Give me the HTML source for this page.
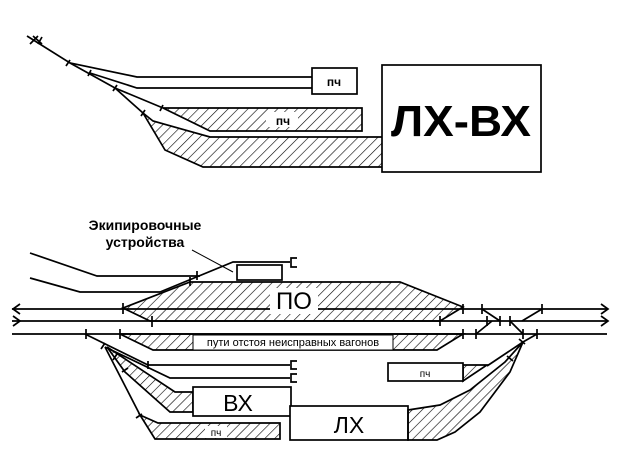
<!DOCTYPE html>
<html><head><meta charset="utf-8"><style>
html,body{margin:0;padding:0;background:#fff;}
svg{display:block}
text{font-family:"Liberation Sans",sans-serif;fill:#000}
</style></head><body>
<svg width="624" height="468" viewBox="0 0 624 468" xmlns="http://www.w3.org/2000/svg">
<defs>
<pattern id="h" patternUnits="userSpaceOnUse" width="7" height="7" patternTransform="rotate(45)">
<line x1="0" y1="0" x2="0" y2="7" stroke="#000" stroke-width="1.2"/>
</pattern>
</defs>
<g stroke="#000" stroke-width="1.7" fill="none">
<!-- TOP -->
<polygon points="163,108 362,108 362,131 210,131" fill="url(#h)"/>
<polygon points="143,113 153,121 210,137 384,137 384,167 203,167 165,150" fill="url(#h)"/>
<polyline points="27,36 70,63 137,77 312,77"/>
<polyline points="90,73 137,88 312,88"/>
<polyline points="70,63 115,88 163,108"/>
<polyline points="115,88 143,113"/>
<path d="M30,44 l8,-8 M38,44 l4,-7 M33,36 l9,8"/>
<path d="M66,66 l4,-6 M88,76 l3,-6 M113,91 l4,-6 M141,116 l4,-6 M160,111 l3,-6"/>
<rect x="312" y="68" width="45" height="26" fill="#fff"/>
<rect x="382" y="65" width="159" height="107" fill="#fff"/>
</g>
<rect x="266" y="112" width="32" height="15" fill="#fff"/>
<text x="334" y="86" font-size="12" font-weight="bold" text-anchor="middle">пч</text>
<text x="283" y="125" font-size="12" font-weight="bold" text-anchor="middle">пч</text>
<text x="461" y="136" font-size="44" font-weight="bold" text-anchor="middle" textLength="140" lengthAdjust="spacingAndGlyphs">ЛХ-ВХ</text>

<!-- BOTTOM -->
<text x="145" y="230" font-size="14" font-weight="bold" text-anchor="middle">Экипировочные</text>
<text x="145" y="247" font-size="14" font-weight="bold" text-anchor="middle">устройства</text>
<g stroke="#000" stroke-width="1.7" fill="none">
<line x1="192" y1="250" x2="233" y2="272" stroke-width="1"/>
<polygon points="123,308 190,282 400,282 463,307 440,321 150,321" fill="url(#h)"/>
<polygon points="120,334 463,334 437,350 153,350" fill="url(#h)"/>
<polyline points="30,253 97,276 200,276"/>
<polyline points="30,278 80,292 160,292"/>
<polyline points="160,292 233,262 290,262"/>
<path d="M297,258 h-6 v9 h6"/>
<rect x="237" y="265" width="45" height="15" fill="#fff"/>
<!-- tracks -->
<line x1="12" y1="309" x2="608" y2="309"/>
<line x1="12" y1="321" x2="608" y2="321"/>
<line x1="12" y1="334" x2="607" y2="334"/>
<path d="M20,304 l-7,5 l7,5 M13,316 l7,5 l-7,5 M601,304 l7,5 l-7,5 M601,316 l7,5 l-7,5"/>
<!-- crossovers -->
<line x1="482" y1="309" x2="500" y2="321"/>
<line x1="476" y1="334" x2="492" y2="321"/>
<line x1="510" y1="321" x2="523" y2="334"/>
<line x1="522" y1="321" x2="542" y2="309"/>
<path d="M123,303 v11 M152,316 v11 M197,271 v9 M190,277 v9 M86,329 v10 M120,329 v10 M463,304 v10 M440,316 v10 M482,304 v10 M463,329 v10 M476,329 v10 M487,316 v10 M500,316 v10 M510,316 v10 M523,329 v10 M542,304 v10 M537,329 v10"/>
<!-- lower left -->
<polygon points="107,347 175,392 193,392 193,412 170,412 125,372" fill="url(#h)"/>
<polygon points="140,415 158,423 280,423 280,439 155,439" fill="url(#h)"/>
<polyline points="85,334 148,365 290,365"/>
<polyline points="105,347 170,378 290,378"/>
<polyline points="105,347 140,415"/>
<path d="M297,361 h-6 v8 h6 M297,374 h-6 v8 h6"/>
<path d="M101,349 l4,-6 M113,360 l4,-6 M122,372 l6,-4 M136,418 l6,-4 M148,369 l0,-8"/>
<rect x="193" y="387" width="98" height="29" fill="#fff"/>
<rect x="290" y="406" width="118" height="34" fill="#fff"/>
<!-- right -->
<polygon points="408,410 440,405 470,390 505,362 523,342 510,372 480,412 455,432 437,440 408,440" fill="url(#h)"/>
<line x1="537" y1="334" x2="523" y2="342"/>
<line x1="523" y1="342" x2="487" y2="366"/>
<polygon points="463,365 487,365 463,381" fill="url(#h)"/>
<rect x="388" y="363" width="75" height="18" fill="#fff"/>
<path d="M519,339 l6,5 M507,356 l6,5"/>
</g>
<rect x="270" y="288" width="48" height="26" fill="#fff"/>
<text x="294" y="309" font-size="24" text-anchor="middle">ПО</text>
<rect x="193" y="335" width="200" height="15" fill="#fff" stroke="#000" stroke-width="1"/>
<text x="293" y="346" font-size="11" text-anchor="middle">пути отстоя неисправных вагонов</text>
<text x="238" y="411" font-size="23" text-anchor="middle">ВХ</text>
<text x="349" y="433" font-size="23" text-anchor="middle">ЛХ</text>
<text x="425" y="377" font-size="10" text-anchor="middle">пч</text>
<rect x="205" y="426" width="22" height="12" fill="#fff"/>
<text x="216" y="436" font-size="10" text-anchor="middle">пч</text>
</svg>
</body></html>
